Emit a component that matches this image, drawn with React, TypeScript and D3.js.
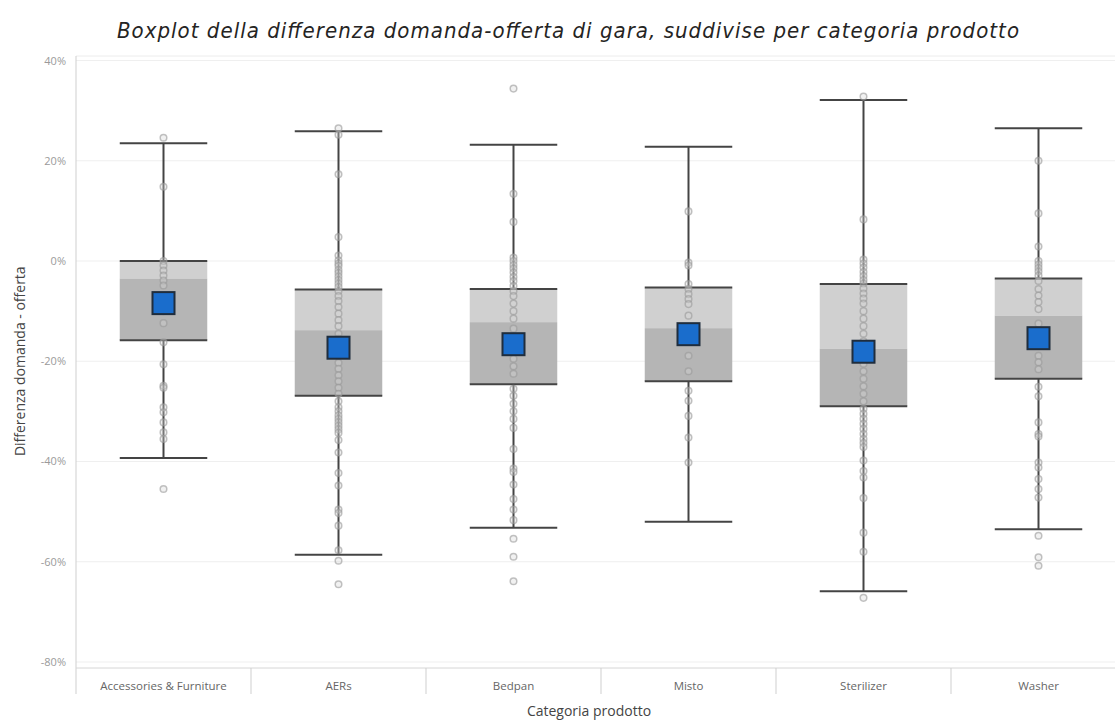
import React from "react";
import * as d3 from "d3";

const categories = ["Accessories & Furniture", "AERs", "Bedpan", "Misto", "Sterilizer", "Washer"];

const q3Values = [0, -5.7, -5.6, -5.3, -4.6, -3.5];
const medianValues = [-3.5, -13.8, -12.2, -13.4, -17.5, -10.9];
const q1Values = [-15.8, -26.9, -24.6, -24.0, -29.0, -23.5];
const upperWhiskers = [23.5, 25.9, 23.2, 22.8, 32.1, 26.5];
const lowerWhiskers = [-39.3, -58.6, -53.2, -52.0, -65.9, -53.5];
const meanValues = [-8.4, -17.3, -16.6, -14.6, -18.1, -15.4];

const accessoriesPoints = [24.6, 14.8, 0, -0.9, -1.9, -2.9, -3.9, -4.9, -7, -10, -12.4, -16.2, -20.6, -24.9, -25.3, -29.2, -30.2, -32.2, -34.2, -35.5, -45.5];
const aersPoints = [26.5, 25.2, 17.3, 4.8, 1.1, 0.1, -0.5, -1, -1.8, -2.4, -3.1, -3.8, -4.5, -5.2, -6, -7, -8, -9.2, -10.5, -11.8, -13, -14.5, -15.5, -19, -20.3, -21.5, -22.8, -24, -25.3, -26.5, -28, -29.2, -30, -30.8, -31.5, -32.2, -32.9, -33.6, -34.3, -35.7, -38.2, -42.3, -44.8, -49.6, -50.3, -52.8, -57.7, -59.8, -64.5];
const bedpanPoints = [34.4, 13.4, 7.8, 0.7, 0, -0.8, -1.5, -2.3, -3.2, -4, -5, -6, -7, -8.5, -10, -11.5, -13.5, -15, -19.5, -21, -22.5, -25.5, -26.9, -28.5, -30, -31.5, -33.3, -37.5, -41.4, -42.1, -44.6, -47.5, -49.6, -51.7, -55.4, -59, -63.9];
const mistoPoints = [9.9, -0.3, -0.9, -4.6, -5.6, -6.6, -7.6, -8.6, -10.9, -18.9, -22, -25.9, -27.9, -30.9, -35.2, -40.2];
const sterilizerPoints = [32.8, 8.3, 0.3, -0.5, -1.3, -2.2, -3, -3.8, -4.5, -5.5, -6.5, -7.5, -8.5, -10, -11.5, -13, -14.5, -16, -20.5, -22, -23.5, -25, -26.5, -28, -29.5, -30.5, -31.5, -32.5, -33.5, -34.5, -35.5, -36.3, -37.1, -39.8, -41.9, -43.2, -47.3, -54.2, -58, -67.2];
const washerPoints = [20, 9.5, 2.9, 0, -0.7, -1.4, -2.1, -2.9, -4, -5.6, -6.9, -8.2, -9.6, -12.5, -18.9, -20.2, -21.6, -25.1, -27, -32.2, -34.5, -35, -40.2, -41.2, -43.5, -45.5, -47.2, -54.8, -59.1, -60.8];

const pointsByCategory = [accessoriesPoints, aersPoints, bedpanPoints, mistoPoints, sterilizerPoints, washerPoints];

const yTicks = [40, 20, 0, -20, -40, -60, -80];

const TITLE = "Boxplot della differenza domanda-offerta di gara, suddivise per categoria prodotto";
const Y_TITLE = "Differenza domanda - offerta";
const X_TITLE = "Categoria prodotto";

export default function App() {
  const W = 1115;
  const H = 722;
  const left = 76;
  const top = 56;
  const bottom = 668;
  const x = d3.scaleBand<string>().domain(categories).range([left, left + 6 * 175]).padding(0);
  const y = d3.scaleLinear().domain([-81.2, 40.9]).range([bottom, top]);
  const bw = x.bandwidth();
  const boxW = bw * 0.5;
  const font = "'Open Sans', 'Noto Sans', sans-serif";
  const sq = 22;

  return (
    <svg width={W} height={H} style={{ position: "absolute", left: 0, top: 0, background: "#fff" }}>
      <text
        x={568}
        y={38}
        textAnchor="middle"
        fontFamily="'Liberation Sans Narrow', 'DejaVu Sans Condensed', sans-serif"
        fontStyle="italic"
        fontSize={22}
        fill="#252423"
        textLength={902}
        lengthAdjust="spacing"
      >
        {TITLE}
      </text>

      <line x1={left} x2={W} y1={top} y2={top} stroke="#ececec" strokeWidth={1} />
      {yTicks.map((t) => (
        <line key={"g" + t} x1={left} x2={W} y1={y(t)} y2={y(t)} stroke="#efefef" strokeWidth={1} />
      ))}
      {yTicks.map((t) => (
        <text key={"t" + t} x={66} y={y(t) + 4} textAnchor="end" fontFamily={font} fontSize={11} fill="#9a9a9a">
          {t + "%"}
        </text>
      ))}
      <line x1={left} x2={left} y1={top} y2={694} stroke="#cfcfcf" strokeWidth={1} />
      <line x1={left} x2={W} y1={bottom} y2={bottom} stroke="#d6d6d6" strokeWidth={1} />
      {categories.map((c, i) =>
        i === 0 ? null : (
          <line key={"d" + c} x1={x(c)!} x2={x(c)!} y1={bottom} y2={694} stroke="#cfcfcf" strokeWidth={1} />
        )
      )}
      {categories.map((c) => (
        <text key={"c" + c} x={x(c)! + bw / 2} y={690} textAnchor="middle" fontFamily={font} fontSize={11.5} fill="#666">
          {c}
        </text>
      ))}
      <text x={589} y={716} textAnchor="middle" fontFamily={font} fontSize={14} fill="#444">
        {X_TITLE}
      </text>
      <text
        transform={`translate(25, ${y(-20)}) rotate(-90)`}
        textAnchor="middle"
        fontFamily={font}
        fontSize={14}
        fill="#444"
      >
        {Y_TITLE}
      </text>

      {categories.map((c, i) => {
        const cx = x(c)! + bw / 2;
        const x0 = cx - boxW / 2;
        const x1 = cx + boxW / 2;
        return (
          <g key={"b" + c}>
            <rect x={x0} y={y(q3Values[i])} width={boxW} height={y(medianValues[i]) - y(q3Values[i])} fill="#d0d0d0" />
            <rect x={x0} y={y(medianValues[i])} width={boxW} height={y(q1Values[i]) - y(medianValues[i])} fill="#b5b5b5" />
            <line x1={cx} x2={cx} y1={y(upperWhiskers[i])} y2={y(q3Values[i])} stroke="#444" strokeWidth={2} />
            <line x1={cx} x2={cx} y1={y(q1Values[i])} y2={y(lowerWhiskers[i])} stroke="#444" strokeWidth={2} />
            <line x1={x0} x2={x1} y1={y(upperWhiskers[i])} y2={y(upperWhiskers[i])} stroke="#444" strokeWidth={2} />
            <line x1={x0} x2={x1} y1={y(lowerWhiskers[i])} y2={y(lowerWhiskers[i])} stroke="#444" strokeWidth={2} />
            <line x1={x0} x2={x1} y1={y(q3Values[i])} y2={y(q3Values[i])} stroke="#444" strokeWidth={2} />
            <line x1={x0} x2={x1} y1={y(q1Values[i])} y2={y(q1Values[i])} stroke="#444" strokeWidth={2} />
            {pointsByCategory[i].map((v, j) => (
              <circle
                key={j}
                cx={cx}
                cy={y(v)}
                r={3.3}
                fill="#d8d8d8"
                fillOpacity={0.35}
                stroke="#999"
                strokeOpacity={0.6}
                strokeWidth={1.5}
              />
            ))}
            <rect
              x={cx - sq / 2}
              y={y(meanValues[i]) - sq / 2}
              width={sq}
              height={sq}
              fill="#1a6dcc"
              stroke="#1f2d3d"
              strokeWidth={2}
            />
          </g>
        );
      })}
    </svg>
  );
}
